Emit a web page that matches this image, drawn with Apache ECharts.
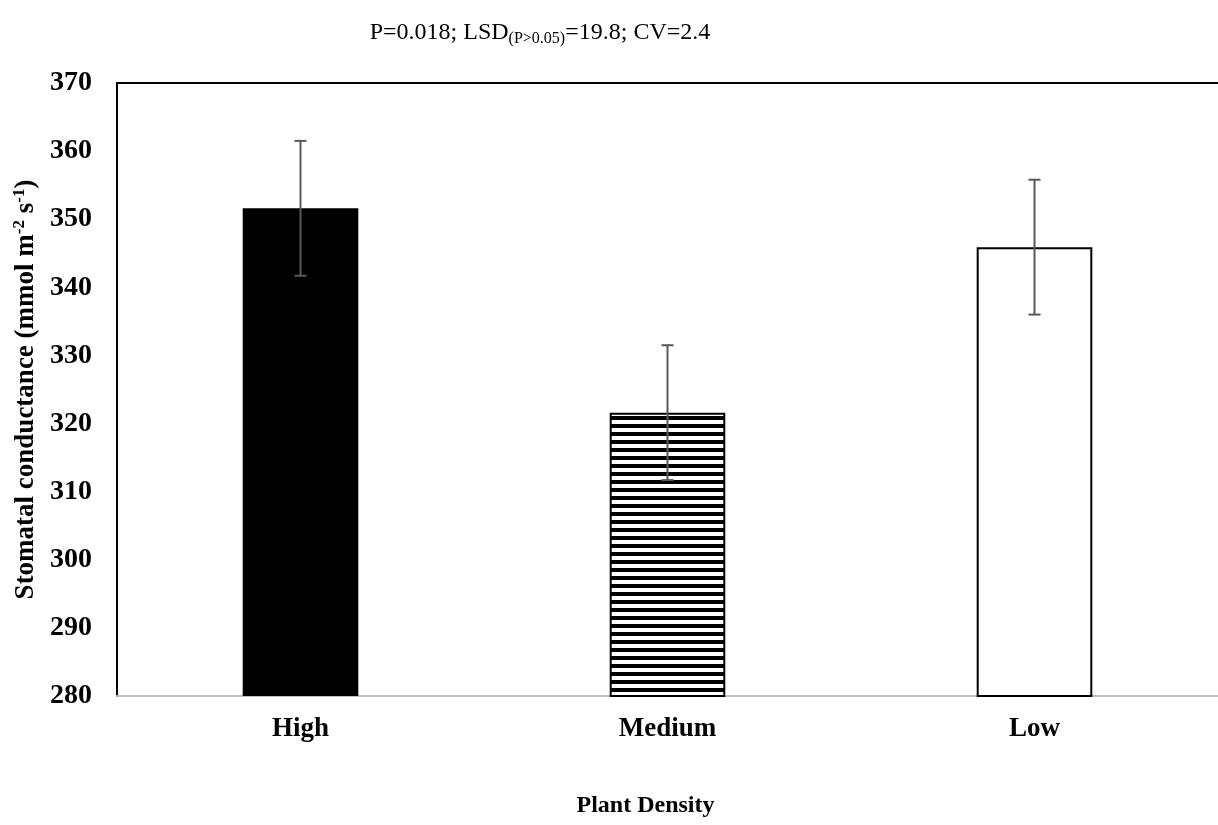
<!DOCTYPE html>
<html>
<head>
<meta charset="utf-8">
<script src="https://cdn.jsdelivr.net/npm/echarts@6/dist/echarts.min.js"></script>
<style>
  html, body { margin: 0; padding: 0; background: #fff; }
  #chart { width: 1218px; height: 825px; }
</style>
</head>
<body>
<div id="chart"></div>
<script>
// Stomatal conductance by plant density, with error bars
const categories = ['High', 'Medium', 'Low'];
const conductance = [351.6, 321.6, 345.9];
const errorHalf = [9.9, 9.9, 9.9];
const yTicks = { min: 280, max: 370, step: 10 };

const FONT = '"Liberation Serif", "Times New Roman", serif';

// horizontal stripe fill for the Medium bar
function stripePattern() {
  const c = document.createElement('canvas');
  c.width = 8; c.height = 8;
  const g = c.getContext('2d');
  g.fillStyle = '#ffffff';
  g.fillRect(0, 0, 8, 8);
  g.fillStyle = '#000000';
  g.fillRect(0, 0, 8, 4);
  return c;
}

const barStyles = [
  { color: '#000000', borderColor: '#000000', borderWidth: 0 },
  { color: { image: stripePattern(), repeat: 'repeat' }, borderColor: '#000000', borderWidth: 2 },
  { color: '#ffffff', borderColor: '#000000', borderWidth: 2 }
];

const barData = conductance.map((v, i) => ({ value: v, itemStyle: barStyles[i] }));
const errData = conductance.map((v, i) => [i, v - errorHalf[i], v + errorHalf[i]]);

const chart = echarts.init(document.getElementById('chart'), null, { renderer: 'canvas' });

chart.setOption({
  backgroundColor: '#ffffff',
  animation: false,
  title: {
    text: 'P=0.018; LSD{sub|(P>0.05)}=19.8; CV=2.4',
    left: 535,
    textAlign: 'center',
    top: 14,
    textStyle: {
      fontFamily: FONT, fontSize: 24, fontWeight: 'normal', color: '#000',
      rich: {
        sub: { fontFamily: FONT, fontSize: 16, color: '#000', verticalAlign: 'bottom', padding: [12, 0, 0, 0] }
      }
    }
  },
  grid: { left: 117, right: 0, top: 83, bottom: 129, containLabel: false },
  xAxis: [
    {
      type: 'category',
      data: categories,
      axisLine: { show: true, lineStyle: { color: '#c0c0c0', width: 2 } },
      axisTick: { show: false },
      axisLabel: { fontFamily: FONT, fontSize: 27, fontWeight: 'bold', color: '#000', margin: 20 },
      name: 'Plant Density',
      nameLocation: 'middle',
      nameGap: 98,
      nameTextStyle: { fontFamily: FONT, fontSize: 24, fontWeight: 'bold', color: '#000', padding: [0, 44, 0, 0] }
    },
    {
      type: 'category',
      data: categories,
      position: 'top',
      axisLine: { show: true, lineStyle: { color: '#000', width: 2 } },
      axisTick: { show: false },
      axisLabel: { show: false }
    }
  ],
  yAxis: {
    type: 'value',
    min: yTicks.min,
    max: yTicks.max,
    interval: yTicks.step,
    axisLine: { show: true, lineStyle: { color: '#000', width: 2 } },
    axisTick: { show: false },
    splitLine: { show: false },
    axisLabel: { fontFamily: FONT, fontSize: 28, fontWeight: 'bold', color: '#000', margin: 25 },
    name: 'Stomatal conductance (mmol m{sup|-2} s{sup|-1})',
    nameLocation: 'middle',
    nameGap: 70,
    nameRotate: 90,
    nameTextStyle: {
      fontFamily: FONT, fontSize: 27, fontWeight: 'bold', color: '#000',
      rich: {
        sup: { fontFamily: FONT, fontSize: 17, fontWeight: 'bold', color: '#000', verticalAlign: 'top', padding: [0, 0, 11, 0] }
      }
    }
  },
  series: [
    {
      type: 'bar',
      data: barData,
      barWidth: '31.5%',
      xAxisIndex: 0
    },
    {
      type: 'custom',
      xAxisIndex: 0,
      data: errData,
      z: 5,
      renderItem: function (params, api) {
        const x = api.value(0);
        const lo = api.coord([x, api.value(1)]);
        const hi = api.coord([x, api.value(2)]);
        const cap = 6;
        const style = { stroke: '#595959', lineWidth: 2 };
        return {
          type: 'group',
          children: [
            { type: 'line', shape: { x1: hi[0], y1: hi[1], x2: lo[0], y2: lo[1] }, style: style },
            { type: 'line', shape: { x1: hi[0] - cap, y1: hi[1], x2: hi[0] + cap, y2: hi[1] }, style: style },
            { type: 'line', shape: { x1: lo[0] - cap, y1: lo[1], x2: lo[0] + cap, y2: lo[1] }, style: style }
          ]
        };
      }
    }
  ]
});
</script>
</body>
</html>
